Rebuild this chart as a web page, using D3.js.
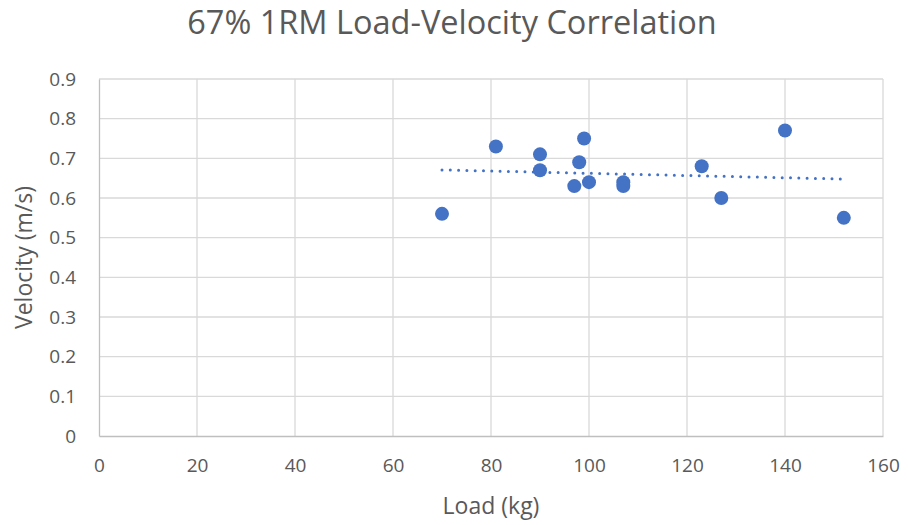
<!DOCTYPE html>
<html>
<head>
<meta charset="utf-8">
<script src="https://cdn.jsdelivr.net/npm/d3@7"></script>
<style>
  body { margin: 0; background: #fff; }
  text { font-family: "Open Sans", "Liberation Sans", sans-serif; fill: #595959; }
</style>
</head>
<body>
<svg id="chart"></svg>
<script>
// data
let loads = [70, 81, 90, 90, 97, 98, 99, 100, 107, 107, 123, 127, 140, 152];
let velocities = [0.56, 0.73, 0.71, 0.67, 0.63, 0.69, 0.75, 0.64, 0.64, 0.63, 0.68, 0.60, 0.77, 0.55];
let xTicks = [0, 20, 40, 60, 80, 100, 120, 140, 160];
let yTicks = [0, 0.1, 0.2, 0.3, 0.4, 0.5, 0.6, 0.7, 0.8, 0.9];

let width = 908, height = 525;
let margin = ({top: 79, right: 25, bottom: 89, left: 99});

const svg = d3.select('#chart').attr('width', width).attr('height', height);

let x = d3.scaleLinear().domain([0, 160]).range([margin.left, width - margin.right]);
let y = d3.scaleLinear().domain([0, 0.9]).range([height - margin.bottom, margin.top]);

// gridlines
svg.append('g')
  .selectAll('line.h')
  .data(yTicks.slice(1))
  .join('line')
  .attr('x1', x(0)).attr('x2', x(160))
  .attr('y1', d => y(d)).attr('y2', d => y(d))
  .attr('stroke', '#d9d9d9').attr('stroke-width', 1.3);

svg.append('g')
  .selectAll('line.v')
  .data(xTicks.slice(1))
  .join('line')
  .attr('x1', d => x(d)).attr('x2', d => x(d))
  .attr('y1', y(0)).attr('y2', y(0.9))
  .attr('stroke', '#d9d9d9').attr('stroke-width', 1.3);

// axes
let xAxis = g => g
  .attr('transform', `translate(0,${y(0)})`)
  .call(d3.axisBottom(x).tickValues(xTicks).tickSize(0).tickPadding(23).tickFormat(d3.format('d')))
  .call(g => g.select('.domain').attr('stroke', '#bfbfbf').attr('stroke-width', 1.3));

let yAxis = g => g
  .attr('transform', `translate(${x(0)},0)`)
  .call(d3.axisLeft(y).tickValues(yTicks).tickSize(0).tickPadding(23).tickFormat(d => d === 0 ? '0' : d3.format('.1f')(d)))
  .call(g => g.select('.domain').attr('stroke', '#bfbfbf').attr('stroke-width', 1.3));

svg.append('g').call(xAxis);
svg.append('g').call(yAxis);
svg.selectAll('.tick text').attr('font-size', 19).attr('fill', '#595959')
  .attr('font-family', '"Open Sans", "Liberation Sans", sans-serif');

// trend line (least squares from the data)
let mx = d3.mean(loads), my = d3.mean(velocities);
let slope = d3.sum(loads, (d, i) => (d - mx) * (velocities[i] - my)) / d3.sum(loads, d => (d - mx) * (d - mx));
let icpt = my - slope * mx;
let ends = d3.extent(loads);

svg.append('line')
  .attr('x1', x(ends[0])).attr('y1', y(icpt + slope * ends[0]))
  .attr('x2', x(ends[1])).attr('y2', y(icpt + slope * ends[1]))
  .attr('stroke', '#4472c4').attr('stroke-width', 3)
  .attr('stroke-linecap', 'round').attr('stroke-dasharray', '0,8.3');

// points
svg.append('g')
  .selectAll('circle')
  .data(loads)
  .join('circle')
  .attr('cx', d => x(d))
  .attr('cy', (d, i) => y(velocities[i]))
  .attr('r', 7)
  .attr('fill', '#4472c4');

// titles
svg.append('text')
  .attr('x', 452).attr('y', 34)
  .attr('text-anchor', 'middle')
  .attr('font-size', 32.5)
  .text('67% 1RM Load-Velocity Correlation');

svg.append('text')
  .attr('x', 491).attr('y', 514)
  .attr('text-anchor', 'middle')
  .attr('font-size', 23)
  .text('Load (kg)');

svg.append('text')
  .attr('transform', `translate(32,${y(0.45)}) rotate(-90)`)
  .attr('text-anchor', 'middle')
  .attr('font-size', 23)
  .text('Velocity (m/s)');
</script>
</body>
</html>
